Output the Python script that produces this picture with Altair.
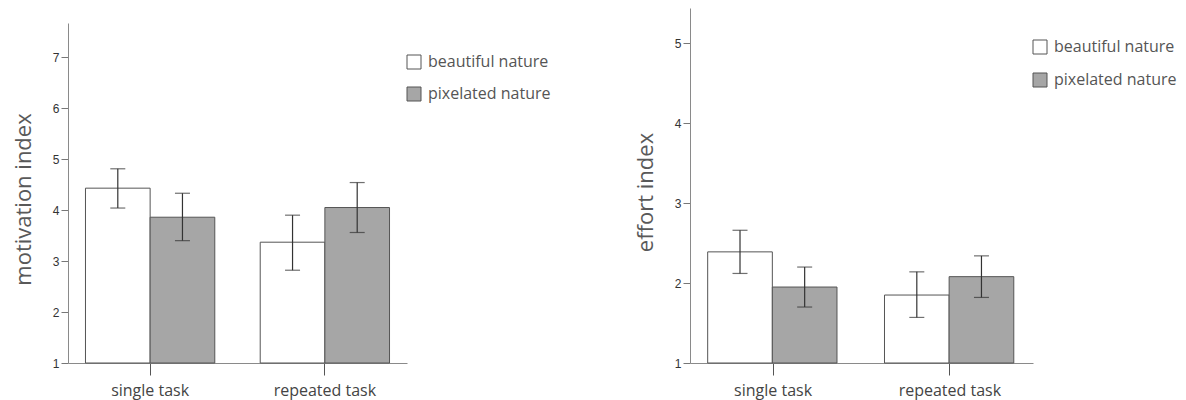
import altair as alt
import pandas as pd

tasks = ["single task", "repeated task"]
conditions = ["beautiful nature", "pixelated nature"]

bar_task = ["single task", "single task", "repeated task", "repeated task"]
bar_condition = ["beautiful nature", "pixelated nature", "beautiful nature", "pixelated nature"]

motivation_mean = [4.43, 3.86, 3.37, 4.05]
motivation_low = [4.04, 3.40, 2.82, 3.56]
motivation_high = [4.81, 4.33, 3.90, 4.54]

effort_mean = [2.39, 1.95, 1.85, 2.08]
effort_low = [2.12, 1.70, 1.57, 1.82]
effort_high = [2.66, 2.20, 2.14, 2.34]

motivation_ticks = [1, 2, 3, 4, 5, 6, 7]
effort_ticks = [1, 2, 3, 4, 5]

FILL_COLORS = ["#ffffff", "#a6a6a6"]


def panel(title, mean, low, high, ticks, ymax, yrange, width, height, legend_y, title_y, row_pad):
    df = pd.DataFrame({
        "task": bar_task,
        "condition": bar_condition,
        "mean": mean,
        "low": low,
        "high": high,
    })
    y_scale = alt.Scale(domain=[1, ymax], range=yrange, nice=False, zero=False)
    y_axis = alt.Axis(
        title=title, values=ticks, grid=False, tickSize=7, labelPadding=2,
        labelFont="Liberation Sans", labelFontSize=12, labelColor="#333333",
        domainColor="#8a8a8a", tickColor="#777777",
        titleFont="Open Sans", titleFontSize=22, titleFontWeight="normal",
        titleColor="#595959", titlePadding=17, titleY=title_y,
    )
    x_enc = alt.X(
        "task:N", sort=tasks,
        scale=alt.Scale(paddingInner=0.26, paddingOuter=0.1),
        axis=alt.Axis(
            title=None, labelAngle=0, grid=False, tickSize=12, labelPadding=7,
            labelFont="Open Sans", labelFontSize=16, labelColor="#444444",
            domainColor="#8a8a8a", tickColor="#555555",
        ),
    )
    xo_enc = alt.XOffset("condition:N", sort=conditions,
                         scale=alt.Scale(paddingInner=0, paddingOuter=0))
    base = alt.Chart(df)
    bars = base.mark_bar(stroke="#555555", strokeWidth=1).encode(
        x=x_enc,
        xOffset=xo_enc,
        y=alt.Y("mean:Q", scale=y_scale, axis=y_axis),
        y2=alt.datum(1),
        fill=alt.Fill(
            "condition:N",
            scale=alt.Scale(domain=conditions, range=FILL_COLORS),
            legend=alt.Legend(
                title=None, orient="none", legendX=width - 1, legendY=legend_y,
                symbolType="square", symbolSize=196, symbolStrokeColor="#555555",
                symbolStrokeWidth=1, labelFont="Open Sans", labelFontSize=16,
                labelColor="#555555", rowPadding=row_pad, labelOffset=6, padding=0,
            ),
        ),
    )
    whisk = base.mark_rule(color="#333333", strokeWidth=1.2).encode(
        x=x_enc, xOffset=xo_enc,
        y=alt.Y("low:Q", scale=y_scale, axis=y_axis),
        y2="high:Q",
    )
    cap_lo = base.mark_tick(color="#333333", size=15, thickness=1.2).encode(
        x=x_enc, xOffset=xo_enc,
        y=alt.Y("low:Q", scale=y_scale, axis=y_axis),
    )
    cap_hi = base.mark_tick(color="#333333", size=15, thickness=1.2).encode(
        x=x_enc, xOffset=xo_enc,
        y=alt.Y("high:Q", scale=y_scale, axis=y_axis),
    )
    return alt.layer(bars, whisk, cap_lo, cap_hi).properties(width=width, height=height)


left = panel("motivation index", motivation_mean, motivation_low, motivation_high,
             motivation_ticks, 7.67, [355, 15], 339, 355, 46, 191, 14)
right = panel("effort index", effort_mean, effort_low, effort_high,
              effort_ticks, 5.44, [355, 0], 343, 355, 31, 184, 15)

chart = alt.hconcat(left, right, spacing=83).resolve_scale(
    fill="independent", y="independent", x="independent"
).configure_view(stroke=None).properties(
    padding={"left": 4, "top": 0, "right": 0, "bottom": 8},
    background="white",
)

chart.save("out.html", embed_options={"renderer": "svg", "actions": False})
